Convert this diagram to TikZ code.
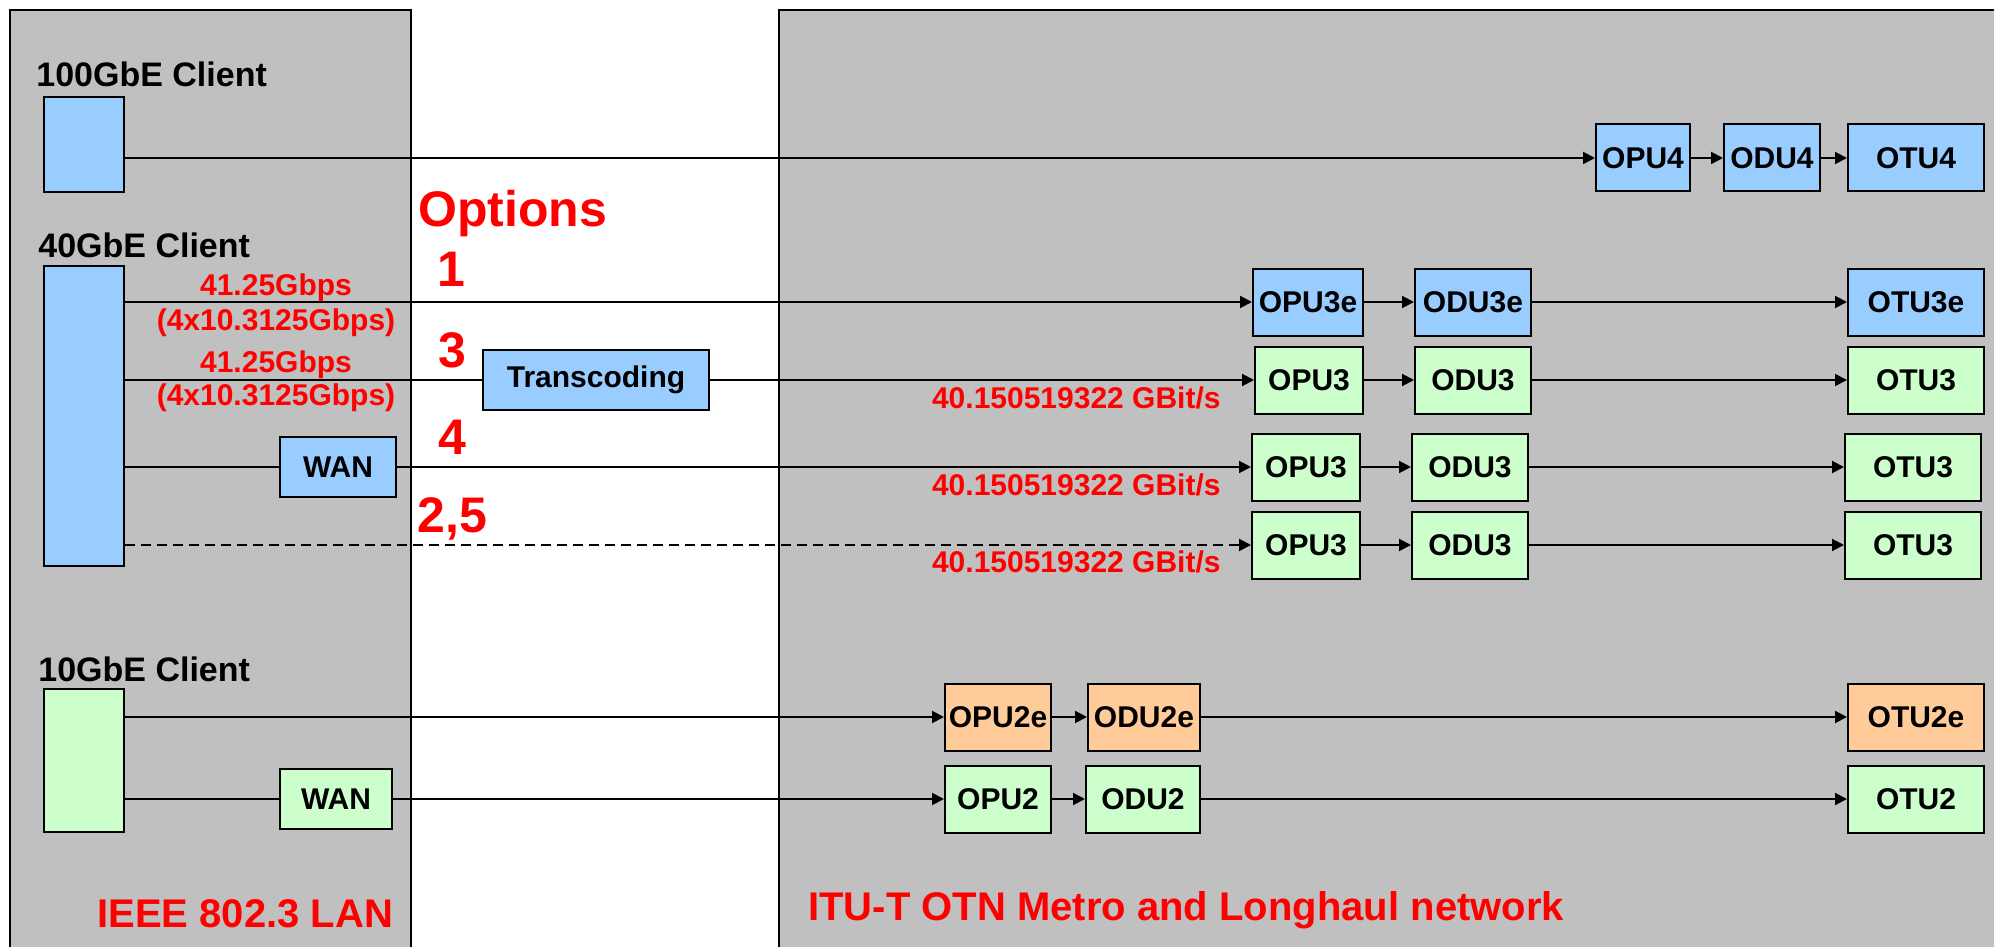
\documentclass[tikz,border=0pt]{standalone}
\usepackage{fontspec}
\setmainfont{Liberation Sans}
\usetikzlibrary{arrows.meta}

\definecolor{panelgray}{HTML}{C0C0C0}
\definecolor{ethblue}{HTML}{99CCFF}
\definecolor{ethgreen}{HTML}{CCFFCC}
\definecolor{ethorange}{HTML}{FFCC99}

\begin{document}
\begin{tikzpicture}[x=0.5pt,y=-0.5pt,
  panel/.style={draw=black,line width=1pt,fill=panelgray},
  unit/.style={draw=black,line width=1pt,minimum height=33.5pt,inner sep=0pt,font=\bfseries\fontsize{15}{18}\selectfont},
  client/.style={draw=black,line width=1pt,minimum width=40pt,inner sep=0pt},
  clientlabel/.style={anchor=base west,inner sep=0pt,font=\bfseries\fontsize{17}{20}\selectfont},
  opt/.style={anchor=base,inner sep=0pt,text=red,font=\bfseries\fontsize{25}{30}\selectfont},
  rate/.style={anchor=base,inner sep=0pt,text=red,font=\bfseries\fontsize{15}{18}\selectfont},
  area/.style={anchor=base west,inner sep=0pt,text=red,font=\bfseries\fontsize{20}{24}\selectfont},
  link/.style={line width=1pt},
  feed/.style={line width=1pt,-{Triangle[length=6pt,width=6pt]}}]
\useasboundingbox (0,0) rectangle (1994,947);
\clip (0,0) rectangle (1994,947);
\path[panel] (10,10) rectangle (411,980);
\path[panel] (779,10) rectangle (2030,980);

\node[client,fill=ethblue,minimum height=47.5pt] (c100) at (84,144.5) {};
\node[client,fill=ethblue,minimum height=150pt] (c40) at (84,416) {};
\node[client,fill=ethgreen,minimum height=71.5pt] (c10) at (84,760.5) {};
\node[clientlabel] (l100) at (36,87) {100GbE Client};
\node[clientlabel] (l40) at (38,257) {40GbE Client};
\node[clientlabel] (l10) at (38,681) {10GbE Client};

\node[unit,fill=ethblue,minimum width=113pt,minimum height=30pt] (trans) at (596,380) {Transcoding};
\node[unit,fill=ethblue,minimum width=58pt,minimum height=30pt] (wan40) at (338,467) {WAN};
\node[unit,fill=ethgreen,minimum width=56pt,minimum height=30pt] (wan10) at (336,799) {WAN};

\node[unit,fill=ethblue,minimum width=47pt] (opu4) at (1643,158) {OPU4};
\node[unit,fill=ethblue,minimum width=48pt] (odu4) at (1772,158) {ODU4};
\node[unit,fill=ethblue,minimum width=68pt] (otu4) at (1916,158) {OTU4};
\node[unit,fill=ethblue,minimum width=55pt] (opu3e) at (1308,302) {OPU3e};
\node[unit,fill=ethblue,minimum width=58pt] (odu3e) at (1473,302) {ODU3e};
\node[unit,fill=ethblue,minimum width=68pt] (otu3e) at (1916,302) {OTU3e};
\node[unit,fill=ethgreen,minimum width=54pt] (opu3a) at (1309,380) {OPU3};
\node[unit,fill=ethgreen,minimum width=58pt] (odu3a) at (1473,380) {ODU3};
\node[unit,fill=ethgreen,minimum width=68pt] (otu3a) at (1916,380) {OTU3};
\node[unit,fill=ethgreen,minimum width=54pt] (opu3b) at (1306,467) {OPU3};
\node[unit,fill=ethgreen,minimum width=58pt] (odu3b) at (1470,467) {ODU3};
\node[unit,fill=ethgreen,minimum width=68pt] (otu3b) at (1913,467) {OTU3};
\node[unit,fill=ethgreen,minimum width=54pt] (opu3c) at (1306,545) {OPU3};
\node[unit,fill=ethgreen,minimum width=58pt] (odu3c) at (1470,545) {ODU3};
\node[unit,fill=ethgreen,minimum width=68pt] (otu3c) at (1913,545) {OTU3};
\node[unit,fill=ethorange,minimum width=53pt] (opu2e) at (998,717) {OPU2e};
\node[unit,fill=ethorange,minimum width=56pt] (odu2e) at (1144,717) {ODU2e};
\node[unit,fill=ethorange,minimum width=68pt] (otu2e) at (1916,717) {OTU2e};
\node[unit,fill=ethgreen,minimum width=53pt] (opu2) at (998,799) {OPU2};
\node[unit,fill=ethgreen,minimum width=57pt] (odu2) at (1143,799) {ODU2};
\node[unit,fill=ethgreen,minimum width=68pt] (otu2) at (1916,799) {OTU2};

\draw[feed] (c100.east |- opu4) -- (opu4);
\draw[feed] (opu4) -- (odu4);
\draw[feed] (odu4) -- (otu4);
\draw[feed] (c40.east |- opu3e) -- (opu3e);
\draw[feed] (opu3e) -- (odu3e);
\draw[feed] (odu3e) -- (otu3e);
\draw[link] (c40.east |- trans) -- (trans);
\draw[feed] (trans) -- (opu3a);
\draw[feed] (opu3a) -- (odu3a);
\draw[feed] (odu3a) -- (otu3a);
\draw[link] (c40.east |- wan40) -- (wan40);
\draw[feed] (wan40) -- (opu3b);
\draw[feed] (opu3b) -- (odu3b);
\draw[feed] (odu3b) -- (otu3b);
\draw[feed,dash pattern=on 5pt off 3pt] (c40.east |- opu3c) -- (opu3c);
\draw[feed] (opu3c) -- (odu3c);
\draw[feed] (odu3c) -- (otu3c);
\draw[feed] (c10.east |- opu2e) -- (opu2e);
\draw[feed] (opu2e) -- (odu2e);
\draw[feed] (odu2e) -- (otu2e);
\draw[link] (c10.east |- wan10) -- (wan10);
\draw[feed] (wan10) -- (opu2);
\draw[feed] (opu2) -- (odu2);
\draw[feed] (odu2) -- (otu2);

\node[opt,anchor=base west] (options) at (418,227) {Options};
\node[opt] (opt1) at (451,286) {1};
\node[opt] (opt3) at (452,367) {3};
\node[opt] (opt4) at (452,454) {4};
\node[opt,anchor=base west] (opt25) at (417,532) {2,5};

\node[rate] (r1a) at (276,295) {41.25Gbps};
\node[rate] (r1b) at (276,330) {(4x10.3125Gbps)};
\node[rate] (r3a) at (276,372) {41.25Gbps};
\node[rate] (r3b) at (276,405) {(4x10.3125Gbps)};
\node[rate,anchor=base east] (r3c) at (1221,408) {40.150519322 GBit/s};
\node[rate,anchor=base east] (r4) at (1221,495) {40.150519322 GBit/s};
\node[rate,anchor=base east] (r25) at (1221,572) {40.150519322 GBit/s};

\node[area] (lan) at (97,927) {IEEE 802.3 LAN};
\node[area] (otn) at (808,920) {ITU-T OTN Metro and Longhaul network};
\end{tikzpicture}
\end{document}
